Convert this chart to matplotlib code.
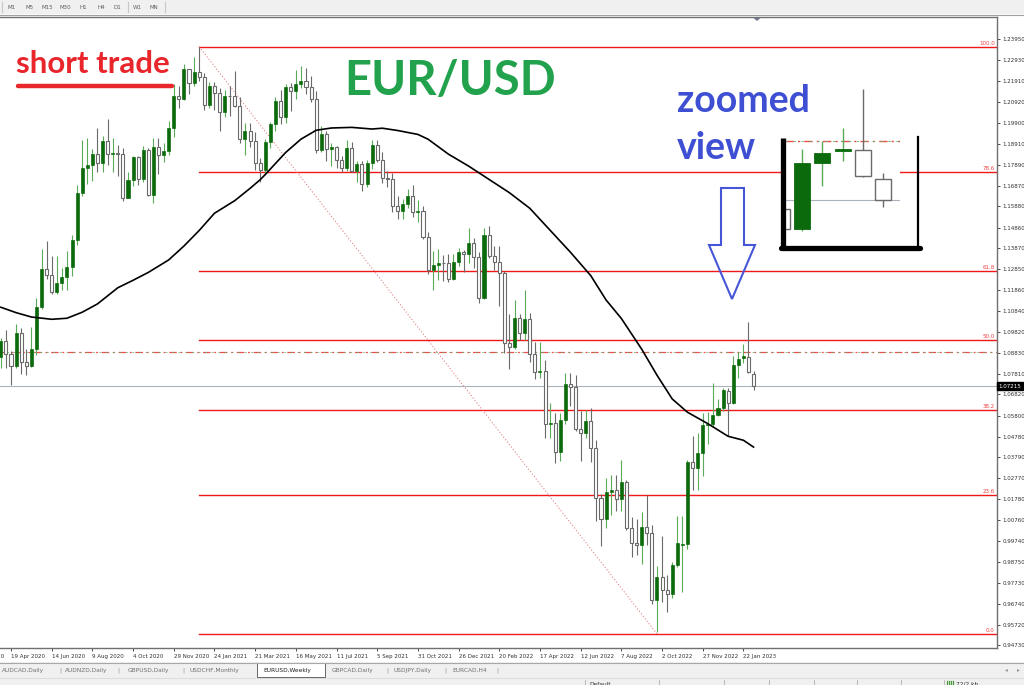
import numpy as np
import matplotlib.pyplot as plt
from matplotlib.patches import Rectangle, Polygon

# weekly EURUSD candles, first bar = week of 5 Apr 2020, bar 0 = 19 Apr 2020
opens = [
    1.0860, 1.0940, 1.0875, 1.0820, 1.0978, 1.0840, 1.0820, 1.0902, 1.1103, 1.1288,
    1.1256, 1.1175, 1.1218, 1.1246, 1.1296, 1.1426, 1.1654, 1.1775, 1.1786, 1.1842,
    1.1795, 1.1905, 1.1840, 1.1845, 1.1840, 1.1630, 1.1715, 1.1828, 1.1722, 1.1860,
    1.1645, 1.1875, 1.1835, 1.1856, 1.1965, 1.2122, 1.2108, 1.2250, 1.2184, 1.2236,
    1.2214, 1.2078, 1.2168, 1.2135, 1.2045, 1.2122, 1.2118, 1.2072, 1.1912, 1.1950,
    1.1905, 1.1795, 1.1762, 1.1900, 1.1983, 1.2097, 1.2020, 1.2165, 1.2145, 1.2180,
    1.2192, 1.2165, 1.2108, 1.1860, 1.1935, 1.1865, 1.1875, 1.1810, 1.1772, 1.1868,
    1.1760, 1.1792, 1.1697, 1.1795, 1.1882, 1.1812, 1.1725, 1.1720, 1.1592, 1.1568,
    1.1600, 1.1640, 1.1560, 1.1568, 1.1440, 1.1280, 1.1305, 1.1316, 1.1314, 1.1238,
    1.1322, 1.1368, 1.1360, 1.1412, 1.1345, 1.1145, 1.1450, 1.1348, 1.1320, 1.1266,
    1.0928, 1.0910, 1.1050, 1.0980, 1.1045, 1.0875, 1.0790, 1.0795, 1.0540, 1.0545,
    1.0405, 1.0560, 1.0730, 1.0720, 1.0517, 1.0495, 1.0555, 1.0425, 1.0185, 1.0080,
    1.0210, 1.0220, 1.0180, 1.0260, 1.0040, 0.9965, 0.9955, 1.0045, 1.0015, 0.9690,
    0.9800, 0.9740, 0.9720, 0.9860, 0.9955, 0.9960, 1.0355, 1.0325, 1.0400, 1.0535,
    1.0540, 1.0585, 1.0615, 1.0696, 1.0640, 1.0826, 1.0859, 1.0862, 1.0781,
]
highs = [
    1.0952, 1.0990, 1.0890, 1.1019, 1.1000, 1.0900, 1.1008, 1.1147, 1.1384, 1.1422,
    1.1350, 1.1350, 1.1290, 1.1372, 1.1452, 1.1690, 1.1909, 1.1916, 1.1865, 1.1966,
    1.1928, 1.2011, 1.1917, 1.1883, 1.1871, 1.1754, 1.1830, 1.1830, 1.1880, 1.1870,
    1.1920, 1.1920, 1.1893, 1.2002, 1.2177, 1.2167, 1.2273, 1.2250, 1.2310, 1.2355,
    1.2230, 1.2190, 1.2190, 1.2160, 1.2150, 1.2170, 1.2243, 1.2113, 1.1990, 1.1990,
    1.1945, 1.1820, 1.1915, 1.1995, 1.2117, 1.2150, 1.2180, 1.2183, 1.2245, 1.2266,
    1.2255, 1.2218, 1.2145, 1.1975, 1.1950, 1.1895, 1.1880, 1.1830, 1.1910, 1.1900,
    1.1807, 1.1805, 1.1810, 1.1910, 1.1908, 1.1850, 1.1760, 1.1750, 1.1640, 1.1625,
    1.1670, 1.1692, 1.1617, 1.1590, 1.1465, 1.1375, 1.1383, 1.1355, 1.1360, 1.1360,
    1.1386, 1.1376, 1.1483, 1.1435, 1.1370, 1.1484, 1.1495, 1.1395, 1.1395, 1.1275,
    1.1070, 1.1137, 1.1070, 1.1185, 1.1075, 1.0935, 1.0936, 1.0850, 1.0642, 1.0590,
    1.0590, 1.0787, 1.0786, 1.0775, 1.0602, 1.0606, 1.0615, 1.0463, 1.0200, 1.0279,
    1.0295, 1.0293, 1.0368, 1.0270, 1.0090, 1.0080, 1.0115, 1.0198, 1.0051, 0.9853,
    0.9999, 0.9810, 0.9875, 1.0094, 1.0095, 1.0365, 1.0480, 1.0497, 1.0594, 1.0595,
    1.0736, 1.0660, 1.0715, 1.0713, 1.0865, 1.0887, 1.0924, 1.1033, 1.0797,
]
lows = [
    1.0810, 1.0810, 1.0727, 1.0810, 1.0782, 1.0775, 1.0815, 1.0870, 1.1095, 1.1238,
    1.1168, 1.1168, 1.1185, 1.1186, 1.1255, 1.1400, 1.1640, 1.1696, 1.1710, 1.1753,
    1.1754, 1.1789, 1.1753, 1.1737, 1.1612, 1.1627, 1.1685, 1.1690, 1.1705, 1.1640,
    1.1603, 1.1745, 1.1800, 1.1835, 1.1923, 1.2060, 1.2100, 1.2130, 1.2170, 1.2192,
    1.2054, 1.2060, 1.2055, 1.1952, 1.2020, 1.2023, 1.2066, 1.1893, 1.1836, 1.1873,
    1.1762, 1.1704, 1.1740, 1.1868, 1.1950, 1.1985, 1.1990, 1.2050, 1.2105, 1.2160,
    1.2128, 1.2093, 1.1847, 1.1848, 1.1807, 1.1782, 1.1772, 1.1752, 1.1760, 1.1752,
    1.1705, 1.1664, 1.1680, 1.1770, 1.1800, 1.1700, 1.1680, 1.1563, 1.1528, 1.1525,
    1.1580, 1.1535, 1.1513, 1.1430, 1.1264, 1.1186, 1.1235, 1.1227, 1.1222, 1.1235,
    1.1300, 1.1272, 1.1314, 1.1290, 1.1121, 1.1140, 1.1340, 1.1280, 1.1106, 1.0880,
    1.0806, 1.0900, 1.0945, 1.0945, 1.0837, 1.0757, 1.0760, 1.0470, 1.0470, 1.0350,
    1.0360, 1.0540, 1.0627, 1.0505, 1.0360, 1.0470, 1.0355, 1.0071, 0.9952, 1.0040,
    1.0100, 1.0120, 1.0122, 1.0030, 0.9900, 0.9910, 0.9865, 0.9955, 0.9670, 0.9536,
    0.9680, 0.9632, 0.9700, 0.9850, 0.9730, 0.9936, 1.0222, 1.0222, 1.0290, 1.0443,
    1.0525, 1.0576, 1.0600, 1.0483, 1.0635, 1.0761, 1.0831, 1.0785, 1.0702,
]
closes = [
    1.0940, 1.0875, 1.0820, 1.0978, 1.0840, 1.0820, 1.0902, 1.1103, 1.1288, 1.1256,
    1.1175, 1.1218, 1.1246, 1.1296, 1.1426, 1.1654, 1.1775, 1.1786, 1.1842, 1.1795,
    1.1905, 1.1840, 1.1845, 1.1840, 1.1630, 1.1715, 1.1828, 1.1722, 1.1860, 1.1645,
    1.1875, 1.1835, 1.1856, 1.1965, 1.2122, 1.2108, 1.2250, 1.2184, 1.2236, 1.2214,
    1.2078, 1.2168, 1.2135, 1.2045, 1.2122, 1.2118, 1.2072, 1.1912, 1.1950, 1.1905,
    1.1795, 1.1762, 1.1900, 1.1983, 1.2097, 1.2020, 1.2165, 1.2145, 1.2180, 1.2192,
    1.2165, 1.2108, 1.1860, 1.1935, 1.1865, 1.1875, 1.1810, 1.1772, 1.1868, 1.1760,
    1.1792, 1.1697, 1.1795, 1.1882, 1.1812, 1.1725, 1.1720, 1.1592, 1.1568, 1.1600,
    1.1640, 1.1560, 1.1568, 1.1440, 1.1280, 1.1305, 1.1316, 1.1314, 1.1238, 1.1322,
    1.1368, 1.1360, 1.1412, 1.1345, 1.1145, 1.1450, 1.1348, 1.1320, 1.1266, 1.0928,
    1.0910, 1.1050, 1.0980, 1.1045, 1.0875, 1.0790, 1.0795, 1.0540, 1.0545, 1.0405,
    1.0560, 1.0730, 1.0720, 1.0517, 1.0495, 1.0555, 1.0425, 1.0185, 1.0080, 1.0210,
    1.0220, 1.0180, 1.0260, 1.0040, 0.9965, 0.9955, 1.0045, 1.0015, 0.9690, 0.9800,
    0.9740, 0.9720, 0.9860, 0.9965, 0.9960, 1.0355, 1.0325, 1.0400, 1.0535, 1.0540,
    1.0585, 1.0615, 1.0705, 1.0640, 1.0826, 1.0854, 1.0865, 1.0790, 1.0722,
]
first_bar = -2

# moving average (bar index, price)
ma_bars = [-2, 1, 4, 8, 11, 14, 17, 21, 24, 27, 31, 34, 37, 40, 44, 47, 49, 50, 54, 57,
           60, 63, 67, 71, 73, 76, 80, 82, 86, 90, 94, 98, 102, 106, 110, 114, 117, 120,
           124, 127, 130, 133, 137, 141, 144, 146]
ma_vals = [1.1102, 1.1076, 1.1055, 1.1044, 1.1049, 1.1078, 1.1118, 1.1196, 1.1232, 1.1270,
           1.1330, 1.1397, 1.1472, 1.1555, 1.1616, 1.1675, 1.1717, 1.1742, 1.1848, 1.1912,
           1.1955, 1.1966, 1.1969, 1.1961, 1.1965, 1.1954, 1.1935, 1.1912, 1.1840, 1.1782,
           1.1718, 1.1654, 1.1579, 1.1473, 1.1367, 1.1254, 1.1137, 1.1048, 1.0900, 1.0775,
           1.0660, 1.0596, 1.0541, 1.0480, 1.0461, 1.0428]

# fibonacci retracement
fib_high_bar, fib_high = 37, 1.2358
fib_low_bar, fib_low = 127, 0.9528
fib_ratios = [0.0, 23.6, 38.2, 50.0, 61.8, 78.6, 100.0]
dashdot_level = 1.0886
last_price = 1.07215

price_ticks = [1.23950, 1.22930, 1.21910, 1.20920, 1.19900, 1.18910, 1.17890, 1.16870,
               1.15880, 1.14860, 1.13870, 1.12850, 1.11860, 1.10840, 1.09820, 1.08830,
               1.07810, 1.06820, 1.05800, 1.04780, 1.03790, 1.02770, 1.01780, 1.00760,
               0.99740, 0.98750, 0.97730, 0.96740, 0.95720, 0.94730]
date_labels = ["23 Feb 2020", "19 Apr 2020", "14 Jun 2020", "9 Aug 2020", "4 Oct 2020",
               "29 Nov 2020", "24 Jan 2021", "21 Mar 2021", "16 May 2021", "11 Jul 2021",
               "5 Sep 2021", "31 Oct 2021", "26 Dec 2021", "20 Feb 2022", "17 Apr 2022",
               "12 Jun 2022", "7 Aug 2022", "2 Oct 2022", "27 Nov 2022", "22 Jan 2023"]
date_step = 8
tabs = ["AUDCAD,Daily", "AUDNZD,Daily", "GBPUSD,Daily", "USDCHF,Monthly", "EURUSD,Weekly",
        "GBPCAD,Daily", "USDJPY,Daily", "EURCAD,H4"]
timeframes = ["M1", "M5", "M15", "M30", "H1", "H4", "D1", "W1", "MN"]

W, H = 1024, 685
UP_BODY = "#0b6a0b"
UP_WICK = "#5aaa5a"
DN_LINE = "#6a6a6a"
FIB_RED = "#f01818"
XLIM = (-2.163, 193.86)
YLIM = (0.94596, 1.25010)


def draw_candles(ax, bars, o, h, l, c, width, lw):
    for x, op, hi, lo, cl in zip(bars, o, h, l, c):
        up = cl >= op
        ax.vlines(x, lo, hi, color=UP_WICK if up else DN_LINE, lw=lw, zorder=3)
        bottom = min(op, cl)
        height = max(abs(cl - op), 0.00025)
        if up:
            ax.add_patch(Rectangle((x - width / 2, bottom), width, height,
                                   facecolor=UP_BODY, edgecolor=UP_BODY, lw=lw * 0.6, zorder=4))
        else:
            ax.add_patch(Rectangle((x - width / 2, bottom), width, height,
                                   facecolor="white", edgecolor=DN_LINE, lw=lw, zorder=4))


bars = np.arange(first_bar, first_bar + len(closes))
fib_prices = [fib_low + r / 100 * (fib_high - fib_low) for r in fib_ratios]
date_pos = [first_bar + 2 + date_step * (k - 1) for k in range(len(date_labels))]

fig = plt.figure(figsize=(W / 100, H / 100), dpi=100)
fig.patch.set_facecolor("white")

# ---- main chart
ax = fig.add_axes([0, 1 - 648 / H, 997 / W, (648 - 17) / H], zorder=1)

draw_candles(ax, bars, opens, highs, lows, closes, 0.6, 0.8)
ax.plot(ma_bars, ma_vals, color="black", lw=1.2, zorder=5)

for r, p in zip(fib_ratios, fib_prices):
    ax.plot([fib_high_bar, XLIM[1]], [p, p], color=FIB_RED, lw=1.0, zorder=2)
    ax.text(193.4, p + 0.0004, f"{r:.1f}", color="#f04040", fontsize=4,
            ha="right", va="bottom", zorder=6)
ax.plot([fib_high_bar, fib_low_bar], [fib_high, fib_low], color="#e07a7a",
        lw=0.7, ls=(0, (1.2, 2)), zorder=2)
ax.axhline(dashdot_level, color="#e8504a", lw=0.9, ls=(0, (6, 3, 1.5, 3)), zorder=2)
ax.axhline(dashdot_level, color="#6aa86a", lw=0.5, ls=(0, (3, 6.5)), zorder=2)
ax.axhline(last_price, color="#a9b3bd", lw=0.8, zorder=1)

ax.yaxis.tick_right()
ax.set_yticks(price_ticks)
ax.set_yticklabels([f"{p:.5f}" for p in price_ticks])
ax.set_xticks(date_pos[1:])
ax.set_xticklabels(date_labels[1:])
for lab in ax.get_xticklabels():
    lab.set_horizontalalignment("left")
ax.set_xlim(*XLIM)
ax.set_ylim(*YLIM)
# first date label sits left of the window and is cut by the figure edge
ax.annotate(date_labels[0], xy=(date_pos[0], 0), xycoords=("data", "axes fraction"),
            xytext=(0, -4.5), textcoords="offset points", fontsize=4, color="#303030",
            ha="left", va="top", annotation_clip=False)
ax.tick_params(axis="y", direction="out", length=2.5, width=0.6, pad=1.5,
               labelsize=4, colors="#303030")
ax.tick_params(axis="x", direction="out", length=2.5, width=0.6, pad=2,
               labelsize=4, colors="#303030")
for side in ["top", "bottom", "right"]:
    ax.spines[side].set_color("#707070")
    ax.spines[side].set_linewidth(1.0)
ax.spines["left"].set_visible(False)

# price marker box on the axis
ax.text(1.0015, (last_price - YLIM[0]) / (YLIM[1] - YLIM[0]), f"{last_price:.5f}",
        transform=ax.transAxes, fontsize=4, color="white", ha="left", va="center",
        bbox=dict(boxstyle="square,pad=0.25", fc="black", ec="black"), zorder=7,
        clip_on=False)

# ---- zoomed inset (last bars enlarged)
ins = fig.add_axes([785 / W, 1 - 245 / H, 115 / W, 160 / H], zorder=2)
ins.patch.set_visible(False)
ins.axis("off")
ins.add_patch(Rectangle((141.163, 1.0595), 5.665, 0.03035, facecolor="white",
                        edgecolor="none", zorder=0))
ins.axhline(dashdot_level, color="#e8504a", lw=1.0, ls=(0, (6, 3, 1.5, 3)), zorder=1)
ins.axhline(dashdot_level, color="#6aa86a", lw=0.6, ls=(0, (3, 6.5)), zorder=1)
ins.axhline(last_price, color="#a9b3bd", lw=0.8, zorder=1)
draw_candles(ins, bars[-6:], opens[-6:], highs[-6:], lows[-6:], closes[-6:], 0.78, 1.0)
ins.set_xlim(141.163, 146.828)
ins.set_ylim(1.0595, 1.10447)

# ---- overlay for terminal chrome and annotations (pixel space)
ov = fig.add_axes([0, 0, 1, 1], zorder=3)
ov.set_xlim(0, W)
ov.set_ylim(H, 0)
ov.axis("off")
ov.patch.set_visible(False)

# toolbar
ov.add_patch(Rectangle((0, 0), W, 14, facecolor="#f0f0f0", edgecolor="none"))
ov.plot([0, W], [14.5, 14.5], color="#a0a0a0", lw=0.8)
tf_x = [7, 25, 42, 59, 79, 97, 114, 133, 149]
for name, x in zip(timeframes, tf_x):
    ov.text(x, 7.5, name, fontsize=4, color="#606060", ha="left", va="center")
for x in [2, 128, 165]:
    ov.plot([x, x], [2, 12], color="#c8c8c8", lw=0.8)
ov.add_patch(Polygon([[753, 17.5], [761, 17.5], [757, 21]], closed=True,
                     facecolor="#707888", edgecolor="none"))

# tab bar + status bar
ov.add_patch(Rectangle((0, 662), W, 23, facecolor="#f0f0f0", edgecolor="none"))
ov.plot([0, W], [662.5, 662.5], color="#a8a8a8", lw=0.8)
tab_x = [2, 65, 128, 190, 263, 332, 393, 452]
sep_x = [60, 118, 183, 387, 445, 497]
ov.add_patch(Rectangle((257, 663), 68, 14, facecolor="white", edgecolor="#505050", lw=0.6))
for name, x in zip(tabs, tab_x):
    ov.text(x, 670.5, name, fontsize=4.2, color="#202020" if "Weekly" in name else "#707070",
            ha="left", va="center")
for x in sep_x:
    ov.text(x, 670.5, "|", fontsize=4.2, color="#909090", ha="center", va="center")
ov.text(1006, 670, "\u25c2", fontsize=4, color="#909090", ha="center", va="center")
ov.text(1018, 670, "\u25b8", fontsize=4, color="#909090", ha="center", va="center")
ov.plot([0, W], [678, 678], color="#d8d8d8", lw=0.6)
for x in [585, 659, 724, 769, 814, 857, 901, 944]:
    ov.plot([x, x], [680, 685], color="#b0b0b0", lw=0.6)
ov.text(589, 684, "Default", fontsize=4.2, color="#303030", ha="left", va="center")
for x in [947, 949, 951, 953]:
    ov.plot([x, x], [680.5, 685], color="#4a9a3a", lw=0.9)
ov.text(956, 684, "72/2 kb", fontsize=4.2, color="#303030", ha="left", va="center")

# annotations
ov.text(16, 73, "short trade", fontsize=22.5, fontweight="bold", family="Lato",
        color="#e8262c", ha="left", va="baseline")
ov.plot([18, 172], [85.5, 85.5], color="#e8262c", lw=3.2, solid_capstyle="round")
ov.text(344, 95, "EUR/USD", fontsize=34, fontweight="bold", family="Lato",
        color="#22a24c", ha="left", va="baseline")
ov.text(677, 112, "zoomed", fontsize=27, fontweight="bold", family="Lato",
        color="#3e4fd3", ha="left", va="baseline")
ov.text(677, 159, "view", fontsize=27, fontweight="bold", family="Lato",
        color="#3e4fd3", ha="left", va="baseline")
arrow = [[721, 188], [744, 188], [744, 245], [755, 245], [732, 299],
         [709, 245], [721, 245]]
ov.add_patch(Polygon(arrow, closed=True, facecolor="none", edgecolor="#4656d6", lw=1.5,
                     joinstyle="miter"))

# inset bracket
ov.plot([782.5, 782.5], [138, 250], color="black", lw=3.8, solid_capstyle="butt")
ov.plot([781, 920], [248, 248], color="black", lw=3.8, solid_capstyle="round")
ov.plot([917.5, 917.5], [137, 248], color="black", lw=1.6)

fig.savefig("out.png", dpi=100, facecolor=fig.get_facecolor())
